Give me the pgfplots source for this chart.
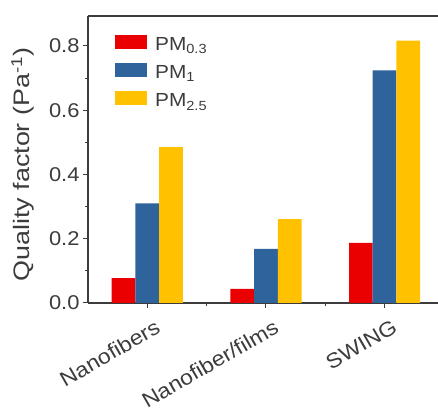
\documentclass[border=0pt]{standalone}
\usepackage{pgfplots}
\pgfplotsset{compat=1.18}
\usepackage{fontspec}
\setmainfont{Liberation Sans}[FakeStretch=1.1]
\newfontfamily\labfont{Liberation Sans}[FakeStretch=1.2]
\definecolor{cred}{RGB}{234,0,0}
\definecolor{cblue}{RGB}{46,99,156}
\definecolor{cyel}{RGB}{255,193,0}
\definecolor{axgray}{RGB}{60,60,60}
\begin{document}
\begin{tikzpicture}
\begin{axis}[
  scale only axis,
  width=350bp, height=287bp,
  xmin=-0.5, xmax=2.45,
  ymin=0, ymax=0.893,
  axis lines*=left,
  axis line style={axgray, line width=1.2pt},
  xtick={0,1,2},
  xticklabels={Nanofibers,Nanofiber/films,SWING},
  minor xtick={0.5,1.5},
  ytick={0,0.2,0.4,0.6,0.8},
  minor ytick={0.1,0.3,0.5,0.7},
  yticklabel style={/pgf/number format/.cd,fixed,fixed zerofill,precision=1},
  /pgf/number format/assume math mode=true,
  tick style={axgray, line width=1pt},
  tick align=outside,
  major tick length=5bp,
  minor tick length=3bp,
  ticklabel style={font=\fontsize{20}{22}\selectfont, text=axgray},
  xticklabel style={rotate=30, anchor=north east, font=\fontsize{21}{24}\selectfont, xshift=4bp, yshift=-9bp},
  ylabel={Quality factor (Pa\textsuperscript{-1})},
  ylabel style={font=\labfont\fontsize{22.5}{24}\selectfont, text=axgray, yshift=8bp, xshift=-5bp},
  ybar, bar width=0.2,
  legend style={draw=none, fill=none, at={(rel axis cs:0.077,0.936)}, anchor=north west,
    font=\fontsize{19}{21}\selectfont, text=axgray, row sep=9bp, column sep=6bp, inner sep=0pt},
  legend cell align=left,
  legend image code/.code={\fill[#1] (0bp,-4bp) rectangle (32bp,10bp);},
]
\addplot[fill=cred, draw=none, bar shift=-0.2] coordinates {(0,0.077) (1,0.044) (2,0.187)};
\addplot[fill=cblue, draw=none, bar shift=0] coordinates {(0,0.310) (1,0.168) (2,0.724)};
\addplot[fill=cyel, draw=none, bar shift=0.2] coordinates {(0,0.485) (1,0.261) (2,0.816)};
\legend{PM\textsubscript{0.3}, PM\textsubscript{1}, PM\textsubscript{2.5}}
\draw[axgray, line width=1.2pt] (rel axis cs:0,1) -- (rel axis cs:1,1);
\end{axis}
\pgfresetboundingbox
\path ([xshift=-88bp,yshift=-111bp]current axis.south west) rectangle ([yshift=16bp]current axis.north east);
\end{tikzpicture}
\end{document}
